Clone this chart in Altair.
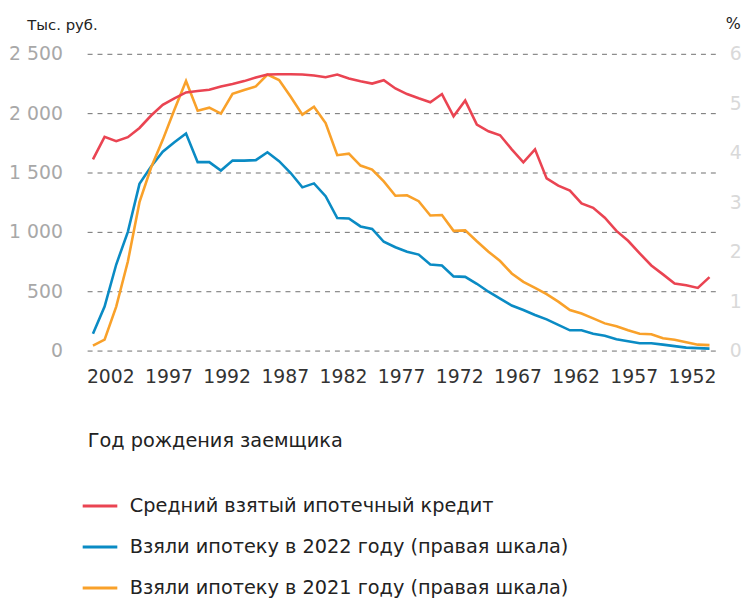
import altair as alt
import pandas as pd

# Birth year of the borrower (x), 2004 down to 1951
years = list(range(2004, 1950, -1))

# Average mortgage loan taken, thousand rubles (left axis)
avg_loan = [1611, 1800, 1764, 1798, 1875, 1980, 2070, 2125, 2175, 2186,
            2197, 2225, 2245, 2270, 2300, 2325, 2328, 2328, 2326, 2317,
            2302, 2325, 2292, 2269, 2249, 2278, 2208, 2161, 2125, 2092,
            2161, 1974, 2106, 1903, 1847, 1814, 1695, 1586, 1695, 1450,
            1389, 1347, 1240, 1203, 1119, 1008, 925, 819, 717, 642,
            564, 550, 528, 619]

# Took a mortgage in 2022, % (right axis)
share_2022 = [0.34, 0.89, 1.74, 2.40, 3.37, 3.72, 4.02, 4.21, 4.39, 3.81,
              3.81, 3.64, 3.84, 3.84, 3.85, 4.01, 3.83, 3.59, 3.30, 3.38,
              3.12, 2.68, 2.67, 2.51, 2.46, 2.20, 2.09, 2.00, 1.94, 1.74,
              1.72, 1.50, 1.49, 1.35, 1.19, 1.05, 0.91, 0.82, 0.72, 0.63,
              0.52, 0.41, 0.41, 0.34, 0.30, 0.23, 0.19, 0.15, 0.15, 0.12,
              0.09, 0.06, 0.05, 0.04]

# Took a mortgage in 2021, % (right axis)
share_2021 = [0.10, 0.22, 0.89, 1.80, 3.00, 3.70, 4.26, 4.87, 5.45, 4.85,
              4.91, 4.79, 5.19, 5.27, 5.34, 5.58, 5.47, 5.13, 4.77, 4.93,
              4.60, 3.95, 3.98, 3.74, 3.66, 3.42, 3.13, 3.14, 3.02, 2.73,
              2.74, 2.42, 2.43, 2.21, 2.00, 1.81, 1.56, 1.39, 1.27, 1.14,
              0.99, 0.82, 0.75, 0.65, 0.55, 0.49, 0.41, 0.34, 0.33, 0.25,
              0.22, 0.17, 0.12, 0.11]

x_ticks = [2002, 1997, 1992, 1987, 1982, 1977, 1972, 1967, 1962, 1957, 1952]
left_ticks = [0, 500, 1000, 1500, 2000, 2500]
right_ticks = [0, 1, 2, 3, 4, 5, 6]

S1 = "Средний взятый ипотечный кредит"
S2 = "Взяли ипотеку в 2022 году (правая шкала)"
S3 = "Взяли ипотеку в 2021 году (правая шкала)"
RED, BLUE, ORANGE = "#ea4452", "#0a8bc4", "#f9a12a"
FONT = "DejaVu Sans"

df_left = pd.DataFrame({"year": years, "value": avg_loan, "series": S1})
df_right = pd.concat([
    pd.DataFrame({"year": years, "value": share_2022, "series": S2}),
    pd.DataFrame({"year": years, "value": share_2021, "series": S3}),
])

x_enc = alt.X(
    "year:Q",
    scale=alt.Scale(domain=[1950.5, 2004.5], reverse=True, nice=False, zero=False),
    axis=alt.Axis(
        values=x_ticks, format="d", grid=False, domain=False, ticks=False,
        labelFont=FONT, labelFontSize=19, labelColor="#333333", labelPadding=17,
        labelOffset=-6,
        title="Год рождения заемщика", titleFont=FONT, titleFontSize=19.5,
        titleFontWeight="normal", titleColor="#222222", titleAnchor="start",
        titleAlign="left", titleBaseline="middle", titleX=0, titleY=91,
    ),
)

color_enc = alt.Color(
    "series:N",
    scale=alt.Scale(domain=[S1, S2, S3], range=[RED, BLUE, ORANGE]),
    legend=alt.Legend(
        title=None, orient="none", legendX=-6, legendY=438, direction="vertical",
        symbolType="stroke", symbolSize=1225, symbolStrokeWidth=3,
        labelFont=FONT, labelFontSize=19.5, labelColor="#222222", labelOffset=11,
        rowPadding=12.5, labelLimit=0, padding=0,
    ),
)

left = alt.Chart(df_left).mark_line(strokeWidth=2.6).encode(
    x=x_enc,
    y=alt.Y(
        "value:Q",
        scale=alt.Scale(domain=[0, 2500], nice=False),
        axis=alt.Axis(
            orient="left", values=left_ticks,
            labelExpr="replace(format(datum.value, ','), ',', ' ')",
            grid=True, gridDash=[5, 5], gridColor="#6e6e6e", gridWidth=1,
            domain=False, ticks=False, labelPadding=25,
            labelFont=FONT, labelFontSize=19, labelColor="#a8a8a8",
            title="Тыс. руб.", titleFont=FONT, titleFontSize=15,
            titleFontWeight="normal", titleColor="#222222", titleAngle=0,
            titleAlign="left", titleBaseline="middle", titleX=-61, titleY=-30,
        ),
    ),
    color=color_enc,
)

right = alt.Chart(df_right).mark_line(strokeWidth=2.6).encode(
    x=x_enc,
    y=alt.Y(
        "value:Q",
        scale=alt.Scale(domain=[0, 6], nice=False),
        axis=alt.Axis(
            orient="right", values=right_ticks, format="d",
            grid=False, domain=False, ticks=False, labelPadding=14,
            labelFont=FONT, labelFontSize=19, labelColor="#d9d9d9",
            title="%", titleFont=FONT, titleFontSize=16,
            titleFontWeight="normal", titleColor="#222222", titleAngle=0,
            titleAlign="left", titleBaseline="middle", titleX=10, titleY=-31,
        ),
    ),
    color=color_enc,
)

chart = (
    alt.layer(right, left)
    .resolve_scale(y="independent")
    .properties(
        width=635, height=300,
        autosize=alt.AutoSizeParams(type="none"),
        padding={"left": 80, "top": 43, "right": 29, "bottom": 265},
    )
    .configure_view(stroke=None)
)

chart.save("out.html", embed_options={"renderer": "svg", "actions": False})
